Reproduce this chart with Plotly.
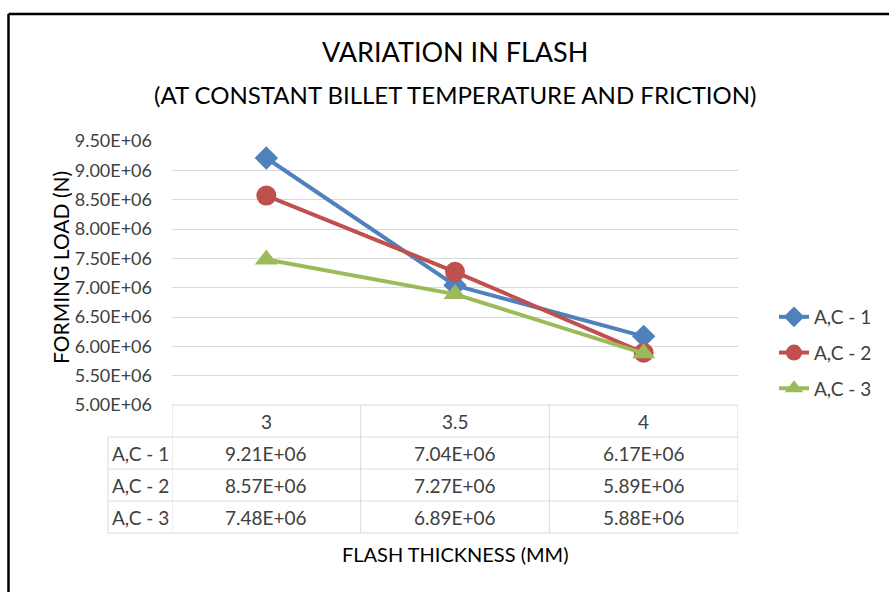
import plotly.graph_objects as go

# ---------------- data ----------------
categories = ["3", "3.5", "4"]
series_names = ["A,C - 1", "A,C - 2", "A,C - 3"]
ac1 = [9.21e6, 7.04e6, 6.17e6]
ac2 = [8.57e6, 7.27e6, 5.89e6]
ac3 = [7.48e6, 6.89e6, 5.88e6]
y_ticks = [5.0e6, 5.5e6, 6.0e6, 6.5e6, 7.0e6, 7.5e6, 8.0e6, 8.5e6, 9.0e6, 9.5e6]
title_line1 = "VARIATION IN FLASH"
title_line2 = "(AT CONSTANT BILLET TEMPERATURE AND FRICTION)"
x_title = "FLASH THICKNESS (MM)"
y_title = "FORMING LOAD (N)"

# ---------------- layout helpers ----------------
W, H = 889, 592
FONT = "Lato"
def px(x):
    return x / W
def py(y):
    return 1 - y / H

plot_left, plot_right = 172, 738
plot_top, plot_bottom = 141, 405
row_h = 32
label_left = 108

colors = ["#4F81BD", "#C0504D", "#9BBB59"]
symbols = ["diamond", "circle", "triangle-up"]
sizes = [18, 20, 20]
series = [ac1, ac2, ac3]

fig = go.Figure()
for i, (name, vals) in enumerate(zip(series_names, series)):
    fig.add_trace(go.Scatter(
        x=list(range(len(categories))), y=vals, name=name,
        mode="lines+markers", legendgroup=name,
        line=dict(color=colors[i], width=4),
        marker=dict(symbol=symbols[i], size=sizes[i], color=colors[i]),
        cliponaxis=False,
    ))

shapes = []
annotations = []
grid = "#D9D9D9"
table_lines = [plot_bottom + k * row_h for k in range(0, 5)]
for k, yy in enumerate(table_lines):
    x0 = plot_left if k == 0 else label_left
    shapes.append(dict(type="line", xref="paper", yref="paper",
                       x0=px(x0), x1=px(plot_right), y0=py(yy), y1=py(yy),
                       line=dict(color=grid, width=1)))
for c in range(len(categories) + 1):
    shapes.append(dict(type="line", xref="x", yref="paper",
                       x0=c - 0.5, x1=c - 0.5, y0=py(table_lines[0]), y1=py(table_lines[-1]),
                       line=dict(color=grid, width=1)))
shapes.append(dict(type="line", xref="paper", yref="paper",
                   x0=px(label_left), x1=px(label_left), y0=py(table_lines[1]), y1=py(table_lines[-1]),
                   line=dict(color=grid, width=1)))
# chart border (top & left)
shapes.append(dict(type="line", xref="paper", yref="paper", x0=px(8.5), x1=1.0,
                   y0=py(14), y1=py(14), line=dict(color="black", width=2.5)))
shapes.append(dict(type="line", xref="paper", yref="paper", x0=px(8.5), x1=px(8.5),
                   y0=py(14), y1=0.0, line=dict(color="black", width=2.5)))

TXT = "#404040"
tfont = dict(family=FONT, size=19, color=TXT)
def ann(x, y, text, font, xref="paper", **kw):
    d = dict(x=x, xref=xref, y=y, yref="paper", text=text, showarrow=False, font=font,
             xanchor="center", yanchor="middle")
    d.update(kw)
    return d

for c, cat in enumerate(categories):
    annotations.append(ann(c, py(plot_bottom + row_h / 2), cat, tfont, xref="x"))
for r, (name, vals) in enumerate(zip(series_names, series)):
    yc = py(plot_bottom + row_h * (r + 1.5))
    annotations.append(ann(px((label_left + plot_left) / 2), yc, name, tfont))
    for c, v in enumerate(vals):
        annotations.append(ann(c, yc, f"{v:.2E}", tfont, xref="x"))

annotations.append(ann(px(455), py(52), title_line1, dict(family=FONT, size=27, color="black")))
annotations.append(ann(px(455), py(94), title_line2, dict(family=FONT, size=24, color="black")))
annotations.append(ann(px(455), py(554), x_title, dict(family=FONT, size=20, color="black")))
annotations.append(ann(px(61), py(268), y_title, dict(family=FONT, size=21, color="black"),
                       textangle=-90))

fig.update_layout(
    width=W, height=H,
    margin=dict(l=0, r=0, t=0, b=0, autoexpand=False),
    paper_bgcolor="white", plot_bgcolor="white",
    font=dict(family=FONT, color=TXT),
    showlegend=True,
    legend=dict(x=px(774), y=py(298), xanchor="left", yanchor="top",
                font=dict(family=FONT, size=19, color=TXT),
                tracegroupgap=8, traceorder="grouped", bgcolor="rgba(0,0,0,0)"),
    xaxis=dict(domain=[px(plot_left), px(plot_right)], range=[-0.5, len(categories) - 0.5],
               showticklabels=False, showgrid=False, zeroline=False, ticks="", automargin=False),
    yaxis=dict(domain=[py(plot_bottom), py(plot_top)], range=[y_ticks[0], y_ticks[-1]],
               tickvals=y_ticks, ticktext=[f"{v:.2E}" for v in y_ticks],
               showgrid=True, gridcolor=grid, gridwidth=1, zeroline=False, ticks="",
               automargin=False,
               ticklabelstandoff=19, tickfont=dict(family=FONT, size=18, color=TXT)),
    shapes=shapes, annotations=annotations,
)

fig.write_html("out.html")
